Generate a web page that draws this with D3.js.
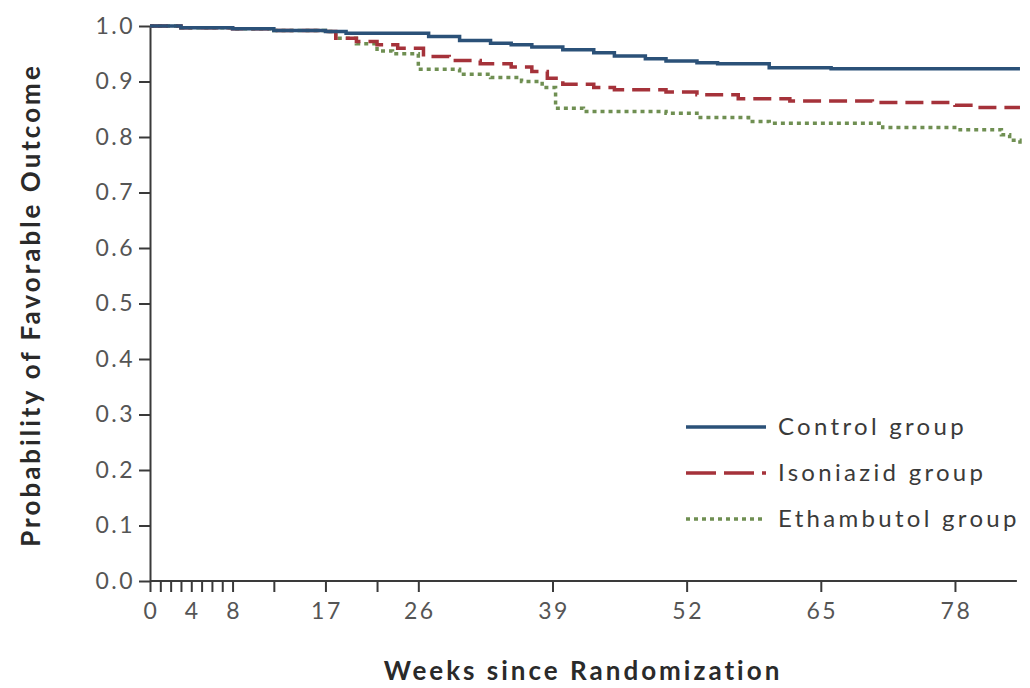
<!DOCTYPE html>
<html>
<head>
<meta charset="utf-8">
<script src="https://d3js.org/d3.v7.min.js"></script>
<style>
  body { margin: 0; background: #fff; }
  svg text { font-family: Lato, "Open Sans", sans-serif; fill: #333; }
  .axis path, .axis line { stroke: #3a3a3a; stroke-width: 2; }
  .axis text { font-size: 23px; fill: #555; letter-spacing: 2.5px; }
  .title { font-size: 26px; font-weight: 700; fill: #2a2a2a; letter-spacing: 3px; }
  .legend text { font-size: 24px; fill: #3a3a3a; letter-spacing: 3.3px; }
</style>
</head>
<body>
<svg width="1030" height="688"></svg>
<script>
// weeks where each curve steps, and the probability after the step
var controlWeeks = [0, 3, 8, 12, 17, 19, 27, 30, 33, 35, 37, 40, 43, 45, 48, 50, 53, 55, 60, 66, 84.3];
var controlVals  = [1.0, 0.997, 0.995, 0.992, 0.99, 0.987, 0.981, 0.974, 0.969, 0.966, 0.962, 0.957, 0.952, 0.946, 0.941, 0.937, 0.934, 0.932, 0.925, 0.923, 0.923];

var isoWeeks = [0, 3, 8, 12, 17, 18, 20, 22, 24, 26.5, 29, 32, 35, 37, 38.5, 40, 43, 45, 50, 53, 57, 62, 70, 78, 80, 84.3];
var isoVals  = [1.0, 0.997, 0.995, 0.992, 0.99, 0.978, 0.972, 0.966, 0.96, 0.945, 0.938, 0.932, 0.926, 0.918, 0.906, 0.895, 0.889, 0.885, 0.881, 0.876, 0.869, 0.865, 0.862, 0.857, 0.853, 0.853];

var ethWeeks = [0, 3, 8, 12, 17, 18, 20, 22, 23.5, 26, 30, 33, 36, 38, 39.3, 42, 50, 53, 58, 60, 71, 78.5, 82.5, 83.3, 84.3];
var ethVals  = [1.0, 0.997, 0.995, 0.992, 0.99, 0.978, 0.968, 0.955, 0.95, 0.922, 0.913, 0.907, 0.9, 0.889, 0.852, 0.846, 0.843, 0.835, 0.828, 0.825, 0.817, 0.813, 0.804, 0.794, 0.788];

var seriesNames = ["Control group", "Isoniazid group", "Ethambutol group"];
var labelledWeeks = [0, 4, 8, 17, 26, 39, 52, 65, 78];
var minorWeeks = [1, 2, 3, 5, 6, 7, 12, 22];
var yTicks = [0, 0.1, 0.2, 0.3, 0.4, 0.5, 0.6, 0.7, 0.8, 0.9, 1.0];

var svg = d3.select("svg");
var x = d3.scaleLinear().domain([0, 85]).range([150, 150 + 85 * 10.32]);
var y = d3.scaleLinear().domain([0, 1]).range([581, 26]);

var colors = ["#2b5178", "#a5323a", "#6f8f52"];
var dashes = [null, "18,8", "4,4"];

var series = [
  controlWeeks.map(function(w, i) { return {w: w, v: controlVals[i]}; }),
  isoWeeks.map(function(w, i) { return {w: w, v: isoVals[i]}; }),
  ethWeeks.map(function(w, i) { return {w: w, v: ethVals[i]}; })
];

// x axis
var xTickVals = labelledWeeks.concat(minorWeeks).sort(d3.ascending);
var xAxis = svg.append("g").attr("class", "axis")
  .attr("transform", "translate(0," + y(0) + ")")
  .call(d3.axisBottom(x).tickValues(xTickVals).tickSizeInner(11).tickSizeOuter(0)
    .tickFormat(function(d) { return labelledWeeks.indexOf(d) >= 0 ? d : ""; }));
xAxis.select(".domain").attr("d", "M" + x(0) + ",0H" + x(84));
xAxis.selectAll("text").attr("dy", "1.05em").attr("dx", "1px");

// y axis
var yAxis = svg.append("g").attr("class", "axis")
  .attr("transform", "translate(" + x(0) + ",0)")
  .call(d3.axisLeft(y).tickValues(yTicks).tickSizeInner(11).tickSizeOuter(0).tickFormat(d3.format(".1f")));
yAxis.selectAll("text").attr("x", -15);

var line = d3.line()
  .x(function(d) { return x(d.w); })
  .y(function(d) { return y(d.v); })
  .curve(d3.curveStepAfter);

// draw ethambutol first so control stays on top
[2, 1, 0].forEach(function(i) {
  svg.append("path")
    .datum(series[i])
    .attr("fill", "none")
    .attr("stroke", colors[i])
    .attr("stroke-width", 3.5)
    .attr("stroke-dasharray", dashes[i])
    .attr("d", line);
});

// legend
var legend = svg.append("g").attr("class", "legend");
var legendDash = [null, "30,8", "4,4"];
seriesNames.forEach(function(name, i) {
  var ly = 427 + i * 46;
  legend.append("line")
    .attr("x1", 686).attr("x2", 766).attr("y1", ly).attr("y2", ly)
    .attr("stroke", colors[i]).attr("stroke-width", 3.5)
    .attr("stroke-dasharray", legendDash[i]);
  legend.append("text").attr("x", 778).attr("y", ly).attr("dy", "0.35em").text(name);
});

// axis titles
svg.append("text").attr("class", "title")
  .attr("x", 583).attr("y", 680).attr("text-anchor", "middle")
  .text("Weeks since Randomization");
svg.append("text").attr("class", "title")
  .attr("transform", "translate(40,305) rotate(-90)")
  .attr("text-anchor", "middle")
  .text("Probability of Favorable Outcome");
</script>
</body>
</html>
